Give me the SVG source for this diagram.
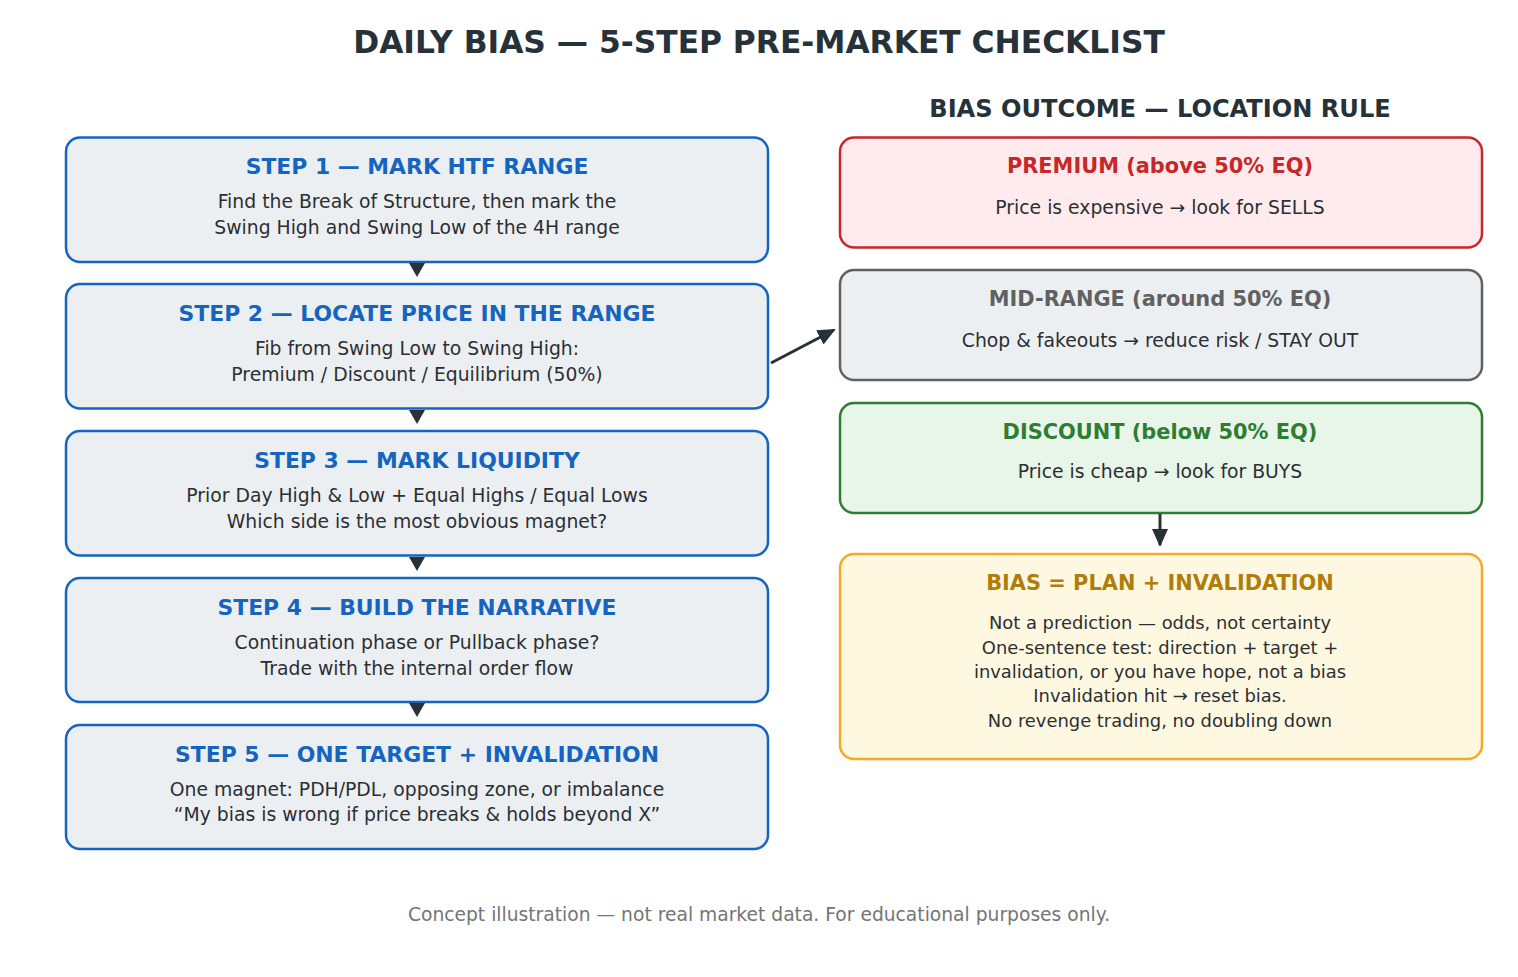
<svg xmlns="http://www.w3.org/2000/svg" width="1518" height="977" viewBox="0 0 1518 977">
<style>
text{font-family:"DejaVu Sans",sans-serif;text-anchor:middle;dominant-baseline:central}
.title{font-size:31.3px;font-weight:bold;fill:#263238}
.hdr{font-size:24.1px;font-weight:bold;fill:#263238}
.step rect{fill:#ECEFF2;stroke:#1565C0;stroke-width:2.5}
.st{font-size:21.9px;font-weight:bold;fill:#1565C0}
.body{font-size:18.8px;fill:#2B2F33}
.small{font-size:17.9px;fill:#2B2F33}
.rt{font-size:20.9px;font-weight:bold}
.foot{font-size:18.7px;fill:#757575}
.conn line{stroke:#263238;stroke-width:3}
</style>
<defs>
<marker id="ah2" markerWidth="18" markerHeight="16" refX="16" refY="8" orient="auto" markerUnits="userSpaceOnUse"><path d="M0,0 L18,8 L0,16 z" fill="#263238"/></marker>
</defs>
<rect width="1518" height="977" fill="#ffffff"/>
<text class="title" x="759" y="42">DAILY BIAS — 5-STEP PRE-MARKET CHECKLIST</text>
<text class="hdr" x="1160" y="109">BIAS OUTCOME — LOCATION RULE</text>

<g id="step1" class="step"><rect x="66" y="137.5" width="702" height="124.5" rx="14"/>
<text class="st" x="417" y="166">STEP 1 — MARK HTF RANGE</text>
<text class="body" x="417" y="201">Find the Break of Structure, then mark the</text>
<text class="body" x="417" y="227">Swing High and Swing Low of the 4H range</text></g>

<g id="step2" class="step"><rect x="66" y="284" width="702" height="124.5" rx="14"/>
<text class="st" x="417" y="313">STEP 2 — LOCATE PRICE IN THE RANGE</text>
<text class="body" x="417" y="348">Fib from Swing Low to Swing High:</text>
<text class="body" x="417" y="374">Premium / Discount / Equilibrium (50%)</text></g>

<g id="step3" class="step"><rect x="66" y="431" width="702" height="124.5" rx="14"/>
<text class="st" x="417" y="460">STEP 3 — MARK LIQUIDITY</text>
<text class="body" x="417" y="495">Prior Day High &amp; Low + Equal Highs / Equal Lows</text>
<text class="body" x="417" y="521">Which side is the most obvious magnet?</text></g>

<g id="step4" class="step"><rect x="66" y="578" width="702" height="124" rx="14"/>
<text class="st" x="417" y="607">STEP 4 — BUILD THE NARRATIVE</text>
<text class="body" x="417" y="642">Continuation phase or Pullback phase?</text>
<text class="body" x="417" y="668">Trade with the internal order flow</text></g>

<g id="step5" class="step"><rect x="66" y="725" width="702" height="124" rx="14"/>
<text class="st" x="417" y="754">STEP 5 — ONE TARGET + INVALIDATION</text>
<text class="body" x="417" y="789">One magnet: PDH/PDL, opposing zone, or imbalance</text>
<text class="body" x="417" y="814">“My bias is wrong if price breaks &amp; holds beyond X”</text></g>

<g id="premium"><rect x="840" y="137.5" width="642" height="110" rx="14" fill="#FFEBEE" stroke="#C62828" stroke-width="2.5"/>
<text class="rt" x="1160" y="166" fill="#C62828">PREMIUM (above 50% EQ)</text>
<text class="body" x="1160" y="207">Price is expensive → look for SELLS</text></g>

<g id="midrange"><rect x="840" y="270" width="642" height="110" rx="14" fill="#ECEFF1" stroke="#616161" stroke-width="2.5"/>
<text class="rt" x="1160" y="299" fill="#616161">MID-RANGE (around 50% EQ)</text>
<text class="body" x="1160" y="340">Chop &amp; fakeouts → reduce risk / STAY OUT</text></g>

<g id="discount"><rect x="840" y="403" width="642" height="110" rx="14" fill="#E8F5E9" stroke="#2E7D32" stroke-width="2.5"/>
<text class="rt" x="1160" y="432" fill="#2E7D32">DISCOUNT (below 50% EQ)</text>
<text class="body" x="1160" y="471">Price is cheap → look for BUYS</text></g>

<g id="bias"><rect x="840" y="554" width="642" height="205" rx="14" fill="#FFF8E1" stroke="#F9A825" stroke-width="2.5"/>
<text class="rt" x="1160" y="583" fill="#B07D0A">BIAS = PLAN + INVALIDATION</text>
<text class="small" x="1160" y="622">Not a prediction — odds, not certainty</text>
<text class="small" x="1160" y="647">One-sentence test: direction + target +</text>
<text class="small" x="1160" y="671">invalidation, or you have hope, not a bias</text>
<text class="small" x="1160" y="695">Invalidation hit → reset bias.</text>
<text class="small" x="1160" y="720">No revenge trading, no doubling down</text></g>

<g id="connectors" class="conn">
<path d="M409,263 L425,263 L417,277 z" fill="#263238"/>
<path d="M409,410 L425,410 L417,424 z" fill="#263238"/>
<path d="M409,557 L425,557 L417,571 z" fill="#263238"/>
<path d="M409,703 L425,703 L417,717 z" fill="#263238"/>
<line x1="771" y1="363" x2="834" y2="330" marker-end="url(#ah2)"/>
<line x1="1160" y1="514" x2="1160" y2="545" marker-end="url(#ah2)"/>
</g>

<text class="foot" x="759" y="914">Concept illustration — not real market data. For educational purposes only.</text>
</svg>
